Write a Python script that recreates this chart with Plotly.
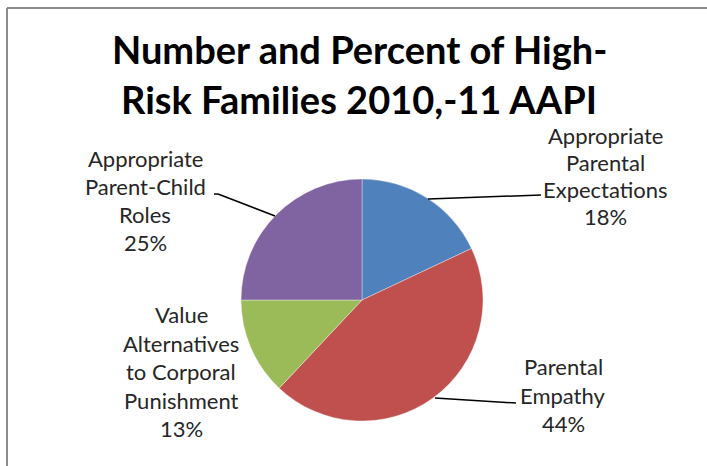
import plotly.graph_objects as go

# Data
categories = [
    "Appropriate Parental Expectations",
    "Parental Empathy",
    "Value Alternatives to Corporal Punishment",
    "Appropriate Parent-Child Roles",
]
label_lines = [
    ["Appropriate", "Parental", "Expectations"],
    ["Parental", "Empathy"],
    ["Value", "Alternatives", "to Corporal", "Punishment"],
    ["Appropriate", "Parent-Child", "Roles"],
]
percents = [18, 44, 13, 25]
colors = ["#4F81BD", "#C0504D", "#9BBB59", "#8064A2"]
title_lines = ["Number and Percent of High-", "Risk Families 2010,-11 AAPI"]

W, H = 707, 466
FONT = "Lato"

fig = go.Figure()

# pie geometry in pixels
cx, cy, r = 362, 300, 121
fig.add_trace(go.Pie(
    labels=categories,
    values=percents,
    sort=False,
    direction="clockwise",
    rotation=0,
    textinfo="none",
    hoverinfo="label+percent",
    marker=dict(colors=colors, line=dict(color="rgba(255,255,255,0.6)", width=0.6)),
    domain=dict(x=[(cx - r) / W, (cx + r) / W], y=[1 - (cy + r) / H, 1 - (cy - r) / H]),
    showlegend=False,
))


def px(x):
    return x / W


def py(y):
    return 1 - y / H


annotations = []

# title, one line per annotation
for i, line in enumerate(title_lines):
    annotations.append(dict(
        x=px(359), y=py(49.5 + 49 * i), xref="paper", yref="paper",
        text=f"<b>{line}</b>", showarrow=False, xanchor="center", yanchor="middle",
        font=dict(family=FONT, size=38, color="#000000"),
    ))

# data labels: x centre, first line centre and line pitch for each slice
label_pos = [(605, 135, 27.2), (563, 366.5, 28.5), (181, 314.5, 28.5), (145, 158.5, 28)]
for (lx, ly, gap), lines, pct in zip(label_pos, label_lines, percents):
    for j, t in enumerate(lines + [f"{pct}%"]):
        annotations.append(dict(
            x=px(lx), y=py(ly + gap * j), xref="paper", yref="paper",
            text=t, showarrow=False, xanchor="center", yanchor="middle",
            font=dict(family=FONT, size=22, color="#262626"),
        ))

shapes = []
# leader lines
leaders = [
    [(428, 199), (541, 195)],
    [(435, 398), (516, 403)],
    [(275, 216), (218, 194), (214, 194)],
]
for pts in leaders:
    for (x0, y0), (x1, y1) in zip(pts[:-1], pts[1:]):
        shapes.append(dict(type="line", xref="paper", yref="paper",
                           x0=px(x0), y0=py(y0), x1=px(x1), y1=py(y1),
                           line=dict(color="#000000", width=1.5)))

# chart frame (top and left edges visible)
shapes.append(dict(type="line", xref="paper", yref="paper",
                   x0=px(7), y0=py(8), x1=px(W + 5), y1=py(8),
                   line=dict(color="#8C8C8C", width=2)))
shapes.append(dict(type="line", xref="paper", yref="paper",
                   x0=px(7), y0=py(8), x1=px(7), y1=py(H + 5),
                   line=dict(color="#8C8C8C", width=2)))

fig.update_layout(
    width=W, height=H,
    margin=dict(l=0, r=0, t=0, b=0),
    paper_bgcolor="white",
    plot_bgcolor="white",
    annotations=annotations,
    shapes=shapes,
)

fig.write_html("out.html")
